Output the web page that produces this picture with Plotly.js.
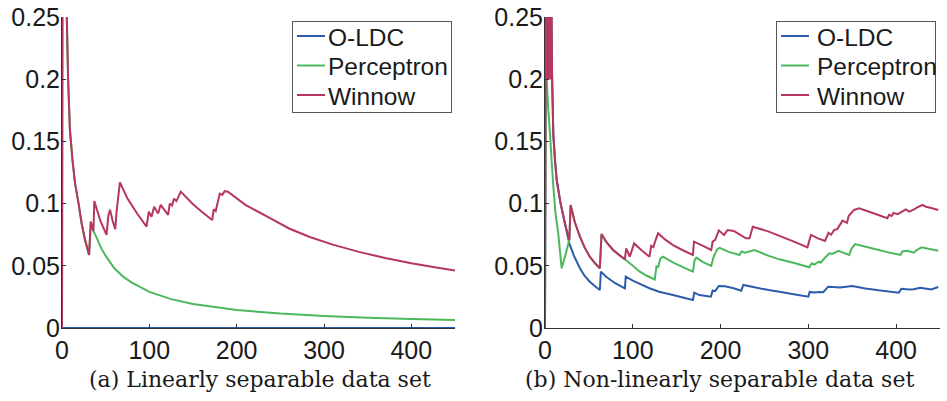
<!DOCTYPE html>
<html>
<head>
<meta charset="utf-8">
<script src="https://cdn.plot.ly/plotly-3.0.1.min.js"></script>
<style>
  html, body { margin: 0; padding: 0; background: #ffffff; }
  #chart { width: 947px; height: 401px; }
</style>
</head>
<body>
<div id="chart"></div>
<script>
// ---------- Data ----------
var seriesNames = ["O-LDC", "Perceptron", "Winnow"];
var captionA = "(a) Linearly separable data set";
var captionB = "(b) Non-linearly separable data set";
var yTickVals = [0, 0.05, 0.1, 0.15, 0.2, 0.25];
var xTickVals = [0, 100, 200, 300, 400];

// Panel (a): linearly separable data set
var aOldcX = [0, 450];
var aOldcY = [0, 0];

var aPercX = [0, 1, 3, 5, 5.5, 7, 9, 12, 15, 19, 22.5, 26, 31, 33, 35, 36,
              40, 45, 50, 60, 70, 80, 100, 125, 150, 200, 250, 300, 350, 400, 450];
var aPercY = [0, 0.5, 0.33, 0.27, 0.25, 0.2, 0.16, 0.135, 0.116, 0.1, 0.084, 0.072, 0.0587, 0.0855, 0.080, 0.078,
              0.072, 0.064, 0.058, 0.048, 0.0413, 0.0365, 0.029, 0.0232, 0.0193, 0.0145, 0.0116, 0.0097, 0.0083, 0.0073, 0.0064];

var aWinX = [0, 1, 3, 5, 5.5, 7, 9, 12, 15, 19, 22.5, 26, 31, 33, 35, 36, 37, 44, 51, 53, 55, 58, 61, 62.5, 66.3,
             75, 86, 96.8, 99.4, 102.5, 105.5, 110, 113, 121.5, 123.4, 126, 128.3, 131, 136,
             150, 160, 172, 173.7, 176, 180.6, 183.5, 186.3, 190,
             210, 237.7, 260, 283, 310, 340, 370, 400, 425, 450];
var aWinY = [0, 0.5, 0.33, 0.27, 0.25, 0.2, 0.16, 0.135, 0.116, 0.1, 0.084, 0.072, 0.0587, 0.0855, 0.080, 0.078, 0.102, 0.086, 0.0748, 0.09, 0.095, 0.086, 0.0795, 0.0935, 0.117,
             0.104, 0.092, 0.0815, 0.0935, 0.0895, 0.0975, 0.092, 0.099, 0.091, 0.100, 0.0985, 0.104, 0.102, 0.1096,
             0.0995, 0.0935, 0.0868, 0.0954, 0.094, 0.108, 0.107, 0.110, 0.1096,
             0.099, 0.0885, 0.080, 0.0734, 0.067, 0.0612, 0.0563, 0.052, 0.049, 0.0463];

// Panel (b): non-linearly separable data set
var bOldcX = [0, 1, 2, 3, 4, 5, 6, 7, 8, 9.5, 11.4, 13.3, 17.8, 22.7, 27.7,
              33, 39.8, 45, 51, 57, 62.5, 63.6, 70, 80, 91, 92, 100, 108, 119, 130, 145.8, 157, 168.5,
              170, 176, 189, 191, 194, 198, 205, 215, 223.5, 226, 240, 255, 267, 285, 300,
              301.5, 307, 312, 317, 322.6, 328, 336, 350, 365, 380, 403, 406, 415, 420, 427.5, 440, 448];
var bOldcY = [0, 0.32, 0.2, 0.32, 0.2, 0.3, 0.2, 0.29, 0.205, 0.155, 0.135, 0.119, 0.1, 0.084, 0.068,
              0.058, 0.048, 0.042, 0.0372, 0.0335, 0.0305, 0.0453, 0.041, 0.036, 0.0319, 0.0412, 0.038, 0.0355, 0.032, 0.0292, 0.0265, 0.0245, 0.0225,
              0.0284, 0.0265, 0.0252, 0.030, 0.0298, 0.0338, 0.0335, 0.032, 0.030, 0.0346, 0.0325, 0.0305, 0.0292, 0.027, 0.0252,
              0.029, 0.0285, 0.029, 0.0288, 0.0332, 0.033, 0.0325, 0.0338, 0.0318, 0.0303, 0.0284, 0.0315, 0.031, 0.0312, 0.0324, 0.031, 0.033];

var bPercX = [0, 1, 2, 3.5, 5.7, 7.5, 9.5, 12, 15.1, 17, 19, 23, 27.7,
              29.2, 34, 39.8, 45, 51, 57, 62.5, 64.4, 70, 77.6, 84, 91,
              100, 108, 116, 125, 127, 129, 131.5, 134.5, 145, 157, 168.5, 170.5, 172.4, 180, 189.4,
              192, 196, 199, 210, 221.6, 224, 228, 238.6, 255, 267, 285, 301,
              304, 307, 311.7, 314, 319, 323.9, 327, 334.5, 338, 346.6, 349, 353.4,
              370, 390, 405, 407, 413, 420, 423, 429, 438, 448];
var bPercY = [0, 0.3, 0.2, 0.178, 0.156, 0.135, 0.1136, 0.092, 0.076, 0.062, 0.048, 0.058, 0.0707,
              0.0989, 0.085, 0.0734, 0.065, 0.0573, 0.052, 0.048, 0.0756, 0.069, 0.0627, 0.059, 0.0552,
              0.050, 0.0453, 0.042, 0.039, 0.0495, 0.049, 0.056, 0.0573, 0.053, 0.049, 0.0453, 0.0547, 0.0565, 0.053, 0.050,
              0.057, 0.0632, 0.0645, 0.061, 0.0587, 0.0615, 0.0605, 0.0627, 0.058, 0.0552, 0.052, 0.0488,
              0.052, 0.051, 0.0533, 0.0525, 0.0565, 0.060, 0.0595, 0.0621, 0.061, 0.0587, 0.0635, 0.0675,
              0.0645, 0.061, 0.0587, 0.0615, 0.062, 0.0605, 0.0625, 0.0648, 0.0635, 0.0621];

var bWinX = [0, 1, 2, 3, 4, 5, 6, 7, 8, 9.5, 11.4, 13.3, 17.8, 22.7, 27.7,
             29.2, 34, 39.8, 45, 51, 57, 62.5, 64.4, 70, 77.6, 84, 91,
             92.5, 96.6, 101.5, 110, 119, 121, 123.5, 126, 128.8, 137, 145.8, 157, 168.5,
             169.7, 180, 189.4, 191, 194, 198, 204, 208, 215, 222, 229, 233, 236.7, 255, 267, 285, 299,
             303, 311, 319, 323, 326, 329.5, 333, 339, 344, 346, 352, 358, 375, 390,
             392, 395, 397, 402, 411, 415, 421, 424, 430, 434, 440, 448];
var bWinY = [0, 0.32, 0.2, 0.32, 0.2, 0.3, 0.2, 0.29, 0.205, 0.155, 0.135, 0.119, 0.1, 0.084, 0.0707,
             0.0989, 0.085, 0.0734, 0.065, 0.0573, 0.052, 0.048, 0.0756, 0.069, 0.0627, 0.059, 0.0552,
             0.064, 0.0573, 0.068, 0.0625, 0.0573, 0.066, 0.065, 0.0707, 0.0761, 0.071, 0.0667, 0.0625, 0.0587,
             0.0694, 0.066, 0.0627, 0.0694, 0.071, 0.0785, 0.0748, 0.0788, 0.078, 0.075, 0.0721, 0.0721, 0.0814, 0.0775, 0.074, 0.069, 0.0648,
             0.0748, 0.072, 0.070, 0.0765, 0.075, 0.0788, 0.0795, 0.0863, 0.0845, 0.090, 0.0949, 0.0962, 0.092, 0.0882,
             0.091, 0.090, 0.0925, 0.0915, 0.0954, 0.0935, 0.0955, 0.0970, 0.0989, 0.0975, 0.0965, 0.0949];

// ---------- Styling ----------
var colors = ["#2b5cab", "#4cb85c", "#b5365f"];
var tickFont = { family: "Liberation Sans, Arial, sans-serif", size: 25, color: "#1a1a1a" };
var capFont = { family: "DejaVu Serif, serif", size: 22, color: "#1a1a1a" };

function mk(x, y, i, xa, ya, leg) {
  return {
    type: "scatter", mode: "lines", x: x, y: y, name: seriesNames[i],
    xaxis: xa, yaxis: ya, legend: leg,
    line: { color: colors[i], width: 2, simplify: false },
    hoverinfo: "skip"
  };
}

var traces = [
  mk(aOldcX, aOldcY, 0, "x", "y", "legend"),
  mk(aPercX, aPercY, 1, "x", "y", "legend"),
  mk(aWinX, aWinY, 2, "x", "y", "legend"),
  mk(bOldcX, bOldcY, 0, "x2", "y2", "legend2"),
  mk(bPercX, bPercY, 1, "x2", "y2", "legend2"),
  mk(bWinX, bWinY, 2, "x2", "y2", "legend2")
];

function xax(dom, anchor) {
  return {
    domain: dom, anchor: anchor, range: [0, 450], tickvals: xTickVals,
    showgrid: false, zeroline: false, showline: true, linecolor: "#333", linewidth: 1,
    ticks: "inside", ticklen: 4, tickcolor: "#333", tickfont: tickFont, mirror: false,
    ticklabelstandoff: 0, fixedrange: true
  };
}
function yax(anchor) {
  return {
    domain: [0.18204, 0.95761], anchor: anchor, range: [0, 0.25], tickvals: yTickVals,
    showgrid: false, zeroline: false, showline: true, linecolor: "#333", linewidth: 1,
    ticks: "inside", ticklen: 4, tickcolor: "#333", tickfont: tickFont, mirror: false,
    ticklabelstandoff: -4, fixedrange: true
  };
}

var legStyle = function (xr) {
  return {
    x: xr, xanchor: "right", y: 1 - 21 / 401, yanchor: "top",
    bgcolor: "#ffffff", bordercolor: "#555", borderwidth: 1,
    font: { family: "Liberation Sans, Arial, sans-serif", size: 24.5, color: "#1a1a1a" },
    tracegroupgap: 0
  };
};

var layout = {
  width: 947, height: 401,
  margin: { l: 0, r: 0, t: 0, b: 0 },
  paper_bgcolor: "#ffffff", plot_bgcolor: "#ffffff",
  showlegend: true,
  xaxis: xax([62 / 947, 455 / 947], "y"),
  yaxis: yax("x"),
  xaxis2: xax([545 / 947, 940 / 947], "y2"),
  yaxis2: yax("x2"),
  legend: legStyle(452 / 947),
  legend2: legStyle(936 / 947),
  annotations: [
    { text: captionA, xref: "paper", yref: "paper", x: 259.5 / 947, y: 1 - 379 / 401,
      xanchor: "center", yanchor: "middle", showarrow: false, font: capFont },
    { text: captionB, xref: "paper", yref: "paper", x: 719 / 947, y: 1 - 379 / 401,
      xanchor: "center", yanchor: "middle", showarrow: false, font: capFont }
  ]
};

// Compact the legend boxes to the reference's tighter layout (rows 29.5 px apart, box 159 x 91 px)
function tightenLegends(gd) {
  try {
    var legs = gd.querySelectorAll("g.legend, g.legend2, g[class^='legend']");
    var seen = [];
    legs.forEach(function (lg) {
      if (seen.indexOf(lg) >= 0) return;
      seen.push(lg);
      var items = lg.querySelectorAll("g.traces");
      if (!items.length) return;
      items.forEach(function (it, i) {
        var m = /translate\(\s*([-\d.e]+)[ ,]+([-\d.e]+)\s*\)/.exec(it.getAttribute("transform") || "");
        var x = m ? parseFloat(m[1]) : 1;
        it.setAttribute("transform", "translate(" + x + "," + (15 + i * 29.5) + ")");
        var ln = it.querySelectorAll("path.js-line");
        ln.forEach(function (p) { p.setAttribute("d", "M4,0h28"); });
        var tx = it.querySelector("text.legendtext");
        if (tx) tx.setAttribute("x", 35);
      });
      var bg = lg.querySelector("rect.bg");
      if (bg) {
        var oldW = parseFloat(bg.getAttribute("width"));
        var newW = 159;
        bg.setAttribute("height", 91);
        bg.setAttribute("width", newW);
        var m2 = /translate\(\s*([-\d.e]+)[ ,]+([-\d.e]+)\s*\)/.exec(lg.getAttribute("transform") || "");
        if (m2 && isFinite(oldW)) {
          lg.setAttribute("transform", "translate(" + (parseFloat(m2[1]) + oldW - newW) + "," + m2[2] + ")");
        }
      }
    });
  } catch (e) { }
}

Plotly.newPlot("chart", traces, layout, { displayModeBar: false, staticPlot: true }).then(tightenLegends);
</script>
</body>
</html>
